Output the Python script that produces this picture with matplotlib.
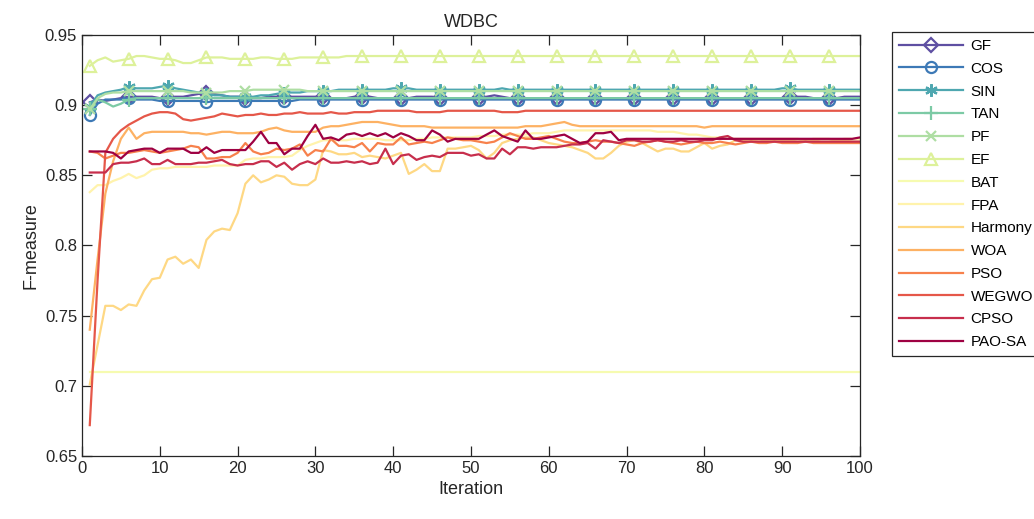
import numpy as np
import matplotlib
matplotlib.use('Agg')
from matplotlib import pyplot as plt

plt.rcParams['font.family'] = ['Liberation Sans', 'DejaVu Sans']

#curves for WDBC, one value per iteration
iteration = list(range(1, 101))

GF = [0.902, 0.904, 0.903, 0.904, 0.905, 0.906, 0.906, 0.906, 0.906, 0.905,
      0.905, 0.906, 0.906, 0.907, 0.908, 0.909, 0.908, 0.907, 0.906, 0.906,
      0.905, 0.905, 0.905, 0.906, 0.906, 0.906, 0.906, 0.906, 0.906, 0.906,
      0.906, 0.905, 0.905, 0.905, 0.906, 0.906, 0.906, 0.905, 0.905, 0.905,
      0.905, 0.905, 0.906, 0.906, 0.906, 0.905, 0.905, 0.905, 0.905, 0.905,
      0.905, 0.906, 0.907, 0.906, 0.905, 0.905, 0.905, 0.905, 0.905, 0.905,
      0.905, 0.905, 0.905, 0.905, 0.905, 0.905, 0.905, 0.905, 0.905, 0.905,
      0.905, 0.905, 0.905, 0.905, 0.905, 0.905, 0.905, 0.905, 0.905, 0.905,
      0.905, 0.905, 0.905, 0.905, 0.905, 0.905, 0.905, 0.905, 0.905, 0.905,
      0.906, 0.906, 0.906, 0.905, 0.905, 0.905, 0.905, 0.906, 0.906, 0.906]
COS = [0.893, 0.901, 0.904, 0.904, 0.904, 0.905, 0.904, 0.904, 0.904, 0.903,
       0.903, 0.903, 0.903, 0.903, 0.903, 0.902, 0.903, 0.903, 0.903, 0.903,
       0.903, 0.903, 0.903, 0.903, 0.903, 0.903, 0.903, 0.904, 0.904, 0.904,
       0.904, 0.904, 0.904, 0.904, 0.904, 0.904, 0.904, 0.904, 0.904, 0.904,
       0.904, 0.904, 0.904, 0.904, 0.904, 0.904, 0.904, 0.904, 0.904, 0.904,
       0.904, 0.904, 0.904, 0.904, 0.904, 0.904, 0.904, 0.904, 0.904, 0.904,
       0.904, 0.904, 0.904, 0.904, 0.904, 0.904, 0.904, 0.904, 0.904, 0.904,
       0.904, 0.904, 0.904, 0.904, 0.904, 0.904, 0.904, 0.904, 0.904, 0.904,
       0.904, 0.904, 0.904, 0.904, 0.904, 0.904, 0.904, 0.904, 0.904, 0.904,
       0.904, 0.904, 0.904, 0.904, 0.904, 0.904, 0.904, 0.904, 0.904, 0.904]
SIN = [0.899, 0.907, 0.909, 0.910, 0.911, 0.913, 0.912, 0.912, 0.912, 0.913,
       0.914, 0.912, 0.911, 0.910, 0.909, 0.908, 0.907, 0.907, 0.906, 0.906,
       0.906, 0.906, 0.907, 0.907, 0.908, 0.909, 0.909, 0.909, 0.910, 0.910,
       0.910, 0.910, 0.911, 0.911, 0.911, 0.911, 0.911, 0.911, 0.911, 0.912,
       0.912, 0.912, 0.911, 0.911, 0.911, 0.911, 0.911, 0.911, 0.911, 0.911,
       0.911, 0.911, 0.911, 0.912, 0.911, 0.911, 0.911, 0.911, 0.911, 0.911,
       0.911, 0.911, 0.911, 0.911, 0.911, 0.911, 0.911, 0.911, 0.911, 0.911,
       0.911, 0.911, 0.911, 0.911, 0.911, 0.911, 0.911, 0.911, 0.911, 0.911,
       0.911, 0.911, 0.911, 0.911, 0.911, 0.911, 0.911, 0.911, 0.911, 0.912,
       0.912, 0.911, 0.911, 0.911, 0.911, 0.911, 0.911, 0.911, 0.911, 0.911]
TAN = [0.897, 0.904, 0.902, 0.899, 0.901, 0.904, 0.905, 0.905, 0.905, 0.905,
       0.905, 0.905, 0.905, 0.905, 0.905, 0.905, 0.905, 0.905, 0.905, 0.905,
       0.905, 0.905, 0.905, 0.905, 0.905, 0.905, 0.905, 0.905, 0.905, 0.905,
       0.905, 0.905, 0.905, 0.905, 0.905, 0.905, 0.905, 0.905, 0.905, 0.905,
       0.905, 0.905, 0.905, 0.905, 0.905, 0.905, 0.905, 0.905, 0.905, 0.905,
       0.905, 0.905, 0.905, 0.905, 0.905, 0.905, 0.905, 0.905, 0.905, 0.905,
       0.905, 0.905, 0.905, 0.905, 0.905, 0.905, 0.905, 0.905, 0.905, 0.905,
       0.905, 0.905, 0.905, 0.905, 0.905, 0.905, 0.905, 0.905, 0.905, 0.905,
       0.905, 0.905, 0.905, 0.905, 0.905, 0.905, 0.905, 0.905, 0.905, 0.905,
       0.905, 0.905, 0.905, 0.905, 0.905, 0.905, 0.905, 0.905, 0.905, 0.905]
PF = [0.897, 0.905, 0.908, 0.909, 0.909, 0.910, 0.910, 0.910, 0.910, 0.910,
      0.910, 0.910, 0.910, 0.909, 0.909, 0.909, 0.909, 0.909, 0.910, 0.910,
      0.910, 0.911, 0.911, 0.911, 0.911, 0.911, 0.911, 0.911, 0.910, 0.910,
      0.910, 0.910, 0.910, 0.910, 0.910, 0.910, 0.910, 0.910, 0.910, 0.910,
      0.910, 0.910, 0.910, 0.910, 0.910, 0.910, 0.910, 0.910, 0.910, 0.910,
      0.910, 0.910, 0.910, 0.910, 0.910, 0.910, 0.910, 0.910, 0.910, 0.910,
      0.910, 0.910, 0.910, 0.910, 0.910, 0.910, 0.910, 0.910, 0.910, 0.910,
      0.910, 0.910, 0.910, 0.910, 0.910, 0.910, 0.910, 0.910, 0.910, 0.910,
      0.910, 0.910, 0.910, 0.910, 0.910, 0.910, 0.910, 0.910, 0.910, 0.910,
      0.910, 0.910, 0.910, 0.910, 0.910, 0.910, 0.910, 0.910, 0.910, 0.910]
EF = [0.928, 0.932, 0.934, 0.931, 0.932, 0.933, 0.935, 0.935, 0.934, 0.933,
      0.933, 0.932, 0.930, 0.930, 0.932, 0.934, 0.934, 0.934, 0.933, 0.933,
      0.933, 0.933, 0.934, 0.934, 0.933, 0.933, 0.933, 0.934, 0.934, 0.934,
      0.934, 0.934, 0.934, 0.935, 0.935, 0.935, 0.935, 0.935, 0.935, 0.935,
      0.935, 0.935, 0.935, 0.935, 0.935, 0.935, 0.935, 0.935, 0.935, 0.935,
      0.935, 0.935, 0.935, 0.935, 0.935, 0.935, 0.935, 0.935, 0.935, 0.935,
      0.935, 0.935, 0.935, 0.935, 0.935, 0.935, 0.935, 0.935, 0.935, 0.935,
      0.935, 0.935, 0.935, 0.935, 0.935, 0.935, 0.935, 0.935, 0.935, 0.935,
      0.935, 0.935, 0.935, 0.935, 0.935, 0.935, 0.935, 0.935, 0.935, 0.935,
      0.935, 0.935, 0.935, 0.935, 0.935, 0.935, 0.935, 0.935, 0.935, 0.935]
BAT = [0.710, 0.710, 0.710, 0.710, 0.710, 0.710, 0.710, 0.710, 0.710, 0.710,
       0.710, 0.710, 0.710, 0.710, 0.710, 0.710, 0.710, 0.710, 0.710, 0.710,
       0.710, 0.710, 0.710, 0.710, 0.710, 0.710, 0.710, 0.710, 0.710, 0.710,
       0.710, 0.710, 0.710, 0.710, 0.710, 0.710, 0.710, 0.710, 0.710, 0.710,
       0.710, 0.710, 0.710, 0.710, 0.710, 0.710, 0.710, 0.710, 0.710, 0.710,
       0.710, 0.710, 0.710, 0.710, 0.710, 0.710, 0.710, 0.710, 0.710, 0.710,
       0.710, 0.710, 0.710, 0.710, 0.710, 0.710, 0.710, 0.710, 0.710, 0.710,
       0.710, 0.710, 0.710, 0.710, 0.710, 0.710, 0.710, 0.710, 0.710, 0.710,
       0.710, 0.710, 0.710, 0.710, 0.710, 0.710, 0.710, 0.710, 0.710, 0.710,
       0.710, 0.710, 0.710, 0.710, 0.710, 0.710, 0.710, 0.710, 0.710, 0.710]
FPA = [0.838, 0.843, 0.843, 0.846, 0.848, 0.851, 0.848, 0.850, 0.854, 0.855,
       0.855, 0.856, 0.856, 0.856, 0.856, 0.856, 0.857, 0.857, 0.857, 0.857,
       0.861, 0.862, 0.862, 0.863, 0.863, 0.863, 0.864, 0.868, 0.871, 0.873,
       0.875, 0.875, 0.875, 0.875, 0.876, 0.876, 0.876, 0.876, 0.875, 0.875,
       0.875, 0.875, 0.876, 0.876, 0.877, 0.877, 0.877, 0.877, 0.877, 0.877,
       0.878, 0.878, 0.878, 0.879, 0.879, 0.879, 0.879, 0.880, 0.880, 0.880,
       0.881, 0.882, 0.882, 0.882, 0.882, 0.882, 0.882, 0.882, 0.882, 0.882,
       0.882, 0.882, 0.882, 0.881, 0.881, 0.881, 0.880, 0.879, 0.879, 0.878,
       0.877, 0.877, 0.876, 0.876, 0.876, 0.876, 0.876, 0.876, 0.876, 0.876,
       0.876, 0.876, 0.875, 0.876, 0.876, 0.876, 0.875, 0.876, 0.876, 0.876]
Harmony = [0.701, 0.729, 0.757, 0.757, 0.754, 0.758, 0.757, 0.768, 0.776, 0.777,
           0.790, 0.792, 0.787, 0.790, 0.784, 0.804, 0.810, 0.812, 0.811, 0.823,
           0.844, 0.850, 0.845, 0.847, 0.850, 0.849, 0.844, 0.843, 0.843, 0.847,
           0.868, 0.867, 0.865, 0.865, 0.866, 0.863, 0.864, 0.863, 0.862, 0.864,
           0.866, 0.851, 0.854, 0.858, 0.853, 0.853, 0.869, 0.869, 0.870, 0.871,
           0.868, 0.862, 0.866, 0.873, 0.875, 0.876, 0.877, 0.877, 0.875, 0.873,
           0.872, 0.871, 0.870, 0.868, 0.866, 0.862, 0.862, 0.866, 0.871, 0.874,
           0.875, 0.873, 0.870, 0.867, 0.869, 0.869, 0.867, 0.867, 0.870, 0.873,
           0.869, 0.871, 0.872, 0.875, 0.875, 0.875, 0.874, 0.875, 0.875, 0.875,
           0.875, 0.874, 0.875, 0.875, 0.874, 0.874, 0.875, 0.875, 0.874, 0.874]
WOA = [0.740, 0.790, 0.837, 0.860, 0.876, 0.884, 0.876, 0.880, 0.881, 0.881,
       0.881, 0.881, 0.881, 0.880, 0.880, 0.879, 0.880, 0.881, 0.881, 0.880,
       0.880, 0.880, 0.881, 0.883, 0.884, 0.882, 0.881, 0.881, 0.881, 0.881,
       0.884, 0.885, 0.885, 0.886, 0.887, 0.888, 0.888, 0.888, 0.887, 0.886,
       0.885, 0.885, 0.885, 0.885, 0.884, 0.884, 0.884, 0.884, 0.884, 0.884,
       0.884, 0.884, 0.884, 0.884, 0.884, 0.884, 0.885, 0.885, 0.885, 0.886,
       0.887, 0.888, 0.886, 0.885, 0.885, 0.885, 0.885, 0.885, 0.885, 0.885,
       0.885, 0.885, 0.885, 0.885, 0.885, 0.885, 0.885, 0.885, 0.885, 0.884,
       0.885, 0.885, 0.885, 0.885, 0.885, 0.885, 0.885, 0.885, 0.885, 0.885,
       0.885, 0.885, 0.885, 0.885, 0.885, 0.885, 0.885, 0.885, 0.885, 0.885]
PSO = [0.867, 0.866, 0.862, 0.864, 0.866, 0.866, 0.867, 0.868, 0.867, 0.866,
       0.867, 0.868, 0.869, 0.871, 0.870, 0.862, 0.862, 0.863, 0.863, 0.866,
       0.873, 0.867, 0.865, 0.866, 0.869, 0.868, 0.869, 0.872, 0.864, 0.868,
       0.867, 0.876, 0.871, 0.871, 0.870, 0.873, 0.867, 0.873, 0.872, 0.872,
       0.877, 0.872, 0.873, 0.874, 0.873, 0.875, 0.877, 0.876, 0.875, 0.875,
       0.874, 0.873, 0.874, 0.877, 0.880, 0.878, 0.876, 0.876, 0.877, 0.878,
       0.876, 0.874, 0.873, 0.873, 0.874, 0.875, 0.874, 0.874, 0.873, 0.872,
       0.871, 0.873, 0.874, 0.875, 0.874, 0.873, 0.872, 0.873, 0.874, 0.873,
       0.873, 0.874, 0.873, 0.872, 0.873, 0.874, 0.873, 0.873, 0.874, 0.873,
       0.873, 0.873, 0.874, 0.873, 0.873, 0.873, 0.873, 0.873, 0.873, 0.873]
WEGWO = [0.672, 0.775, 0.866, 0.876, 0.882, 0.886, 0.889, 0.892, 0.894, 0.895,
         0.895, 0.894, 0.890, 0.889, 0.890, 0.891, 0.892, 0.894, 0.893, 0.892,
         0.893, 0.893, 0.894, 0.893, 0.893, 0.894, 0.894, 0.895, 0.894, 0.894,
         0.894, 0.895, 0.894, 0.894, 0.895, 0.895, 0.895, 0.896, 0.896, 0.896,
         0.896, 0.896, 0.895, 0.895, 0.895, 0.895, 0.896, 0.896, 0.896, 0.896,
         0.896, 0.896, 0.896, 0.895, 0.895, 0.895, 0.896, 0.896, 0.896, 0.896,
         0.896, 0.896, 0.896, 0.896, 0.896, 0.896, 0.896, 0.896, 0.896, 0.896,
         0.896, 0.896, 0.896, 0.896, 0.896, 0.896, 0.896, 0.896, 0.896, 0.896,
         0.896, 0.896, 0.896, 0.896, 0.896, 0.896, 0.896, 0.896, 0.896, 0.896,
         0.896, 0.896, 0.896, 0.896, 0.896, 0.896, 0.896, 0.896, 0.896, 0.896]
CPSO = [0.852, 0.852, 0.852, 0.858, 0.859, 0.859, 0.860, 0.862, 0.858, 0.858,
        0.861, 0.858, 0.858, 0.858, 0.859, 0.859, 0.860, 0.861, 0.858, 0.857,
        0.858, 0.858, 0.860, 0.860, 0.856, 0.859, 0.854, 0.858, 0.860, 0.858,
        0.862, 0.859, 0.859, 0.860, 0.859, 0.860, 0.858, 0.859, 0.869, 0.858,
        0.864, 0.865, 0.861, 0.863, 0.864, 0.863, 0.866, 0.866, 0.866, 0.864,
        0.865, 0.862, 0.862, 0.869, 0.865, 0.870, 0.870, 0.869, 0.870, 0.870,
        0.870, 0.871, 0.872, 0.872, 0.873, 0.869, 0.875, 0.874, 0.873, 0.875,
        0.875, 0.874, 0.874, 0.875, 0.874, 0.874, 0.875, 0.874, 0.874, 0.875,
        0.875, 0.877, 0.878, 0.875, 0.874, 0.874, 0.874, 0.874, 0.874, 0.874,
        0.874, 0.874, 0.874, 0.874, 0.874, 0.874, 0.874, 0.874, 0.874, 0.874]
PAO_SA = [0.867, 0.867, 0.867, 0.866, 0.862, 0.867, 0.868, 0.869, 0.869, 0.866,
          0.869, 0.869, 0.869, 0.866, 0.866, 0.870, 0.866, 0.868, 0.868, 0.868,
          0.868, 0.874, 0.881, 0.873, 0.873, 0.865, 0.869, 0.869, 0.878, 0.886,
          0.876, 0.877, 0.875, 0.879, 0.880, 0.878, 0.880, 0.878, 0.880, 0.877,
          0.880, 0.878, 0.875, 0.875, 0.882, 0.879, 0.874, 0.876, 0.876, 0.876,
          0.876, 0.879, 0.882, 0.878, 0.876, 0.874, 0.882, 0.876, 0.876, 0.877,
          0.878, 0.879, 0.876, 0.873, 0.874, 0.880, 0.880, 0.881, 0.875, 0.876,
          0.876, 0.876, 0.876, 0.876, 0.876, 0.876, 0.876, 0.876, 0.876, 0.876,
          0.876, 0.876, 0.876, 0.876, 0.876, 0.876, 0.876, 0.876, 0.876, 0.876,
          0.876, 0.876, 0.876, 0.876, 0.876, 0.876, 0.876, 0.876, 0.876, 0.877]

names = ['GF', 'COS', 'SIN', 'TAN', 'PF', 'EF', 'BAT', 'FPA', 'Harmony',
         'WOA', 'PSO', 'WEGWO', 'CPSO', 'PAO-SA']
series = [GF, COS, SIN, TAN, PF, EF, BAT, FPA, Harmony, WOA, PSO, WEGWO,
          CPSO, PAO_SA]
# (6, 2, 0) is an asterisk made of lines, like matlab's '*'
markers = ['D', 'o', (6, 2, 0), '+', 'x', '^', None, None, None, None, None,
           None, None, None]
msizes = [7, 8, 9, 10, 7, 9, 0, 0, 0, 0, 0, 0, 0, 0]

colors = plt.cm.Spectral_r(np.linspace(0, 1, len(names)))

fig = plt.figure(figsize=(10.34, 5.19), dpi=100)
ax = fig.add_axes([0.0793, 0.1214, 0.7524, 0.8112])

for k in range(len(names)):
    if markers[k] is not None:
        ax.plot(iteration, series[k], color=colors[k], lw=1.6,
                marker=markers[k], markevery=5, ms=msizes[k],
                mfc='none', mew=1.6, label=names[k])
    else:
        ax.plot(iteration, series[k], color=colors[k], lw=1.6,
                label=names[k])

ax.set_xlim(0, 100)
ax.set_ylim(0.65, 0.95)
ax.set_xticks(np.arange(0, 101, 10))
ax.set_yticks([0.65, 0.7, 0.75, 0.8, 0.85, 0.9, 0.95])
ax.set_yticklabels(['0.65', '0.7', '0.75', '0.8', '0.85', '0.9', '0.95'])
ax.tick_params(direction='in', top=True, right=True, length=7,
               labelsize=12, colors='#262626', width=0.9)
for sp in ax.spines.values():
    sp.set_color('#262626')
    sp.set_linewidth(0.9)

ax.set_xlabel('Iteration', fontsize=13, color='#262626', labelpad=4)
ax.set_ylabel('F-measure', fontsize=13, color='#262626', labelpad=4)
ax.set_title('WDBC', fontsize=13, color='#262626', pad=6)

leg = fig.legend(loc='upper left', bbox_to_anchor=(0.8625, 0.938),
                 fontsize=11, frameon=True, fancybox=False, framealpha=1,
                 edgecolor='#262626', handlelength=4.2, labelspacing=0.575,
                 borderpad=0.45, handletextpad=0.5, borderaxespad=0)
leg.get_frame().set_linewidth(0.9)

fig.savefig('out.png', dpi=100)
